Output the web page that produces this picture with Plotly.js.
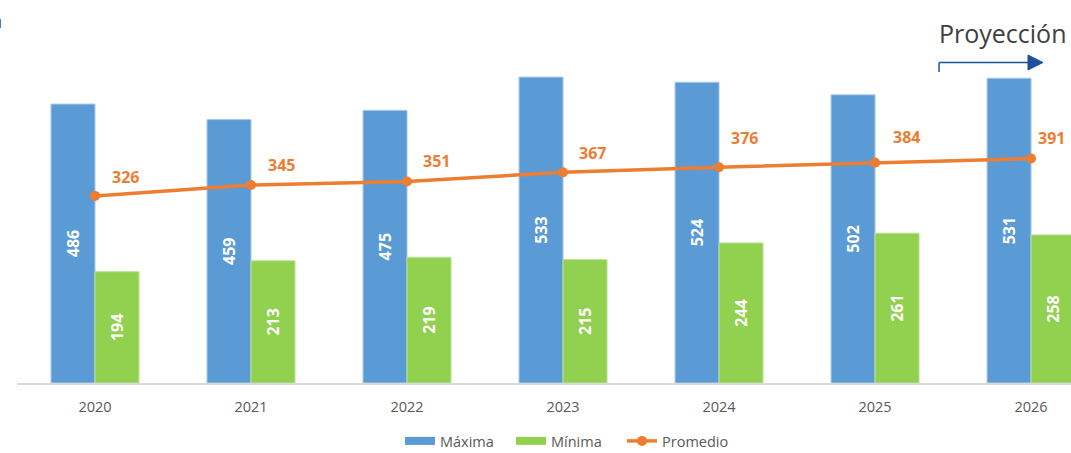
<!DOCTYPE html>
<html>
<head>
<meta charset="utf-8">
<script src="https://cdn.plot.ly/plotly-3.0.1.min.js"></script>
<style>html,body{margin:0;padding:0;background:#fff;}#chart{width:1071px;height:453px;}</style>
</head>
<body>
<div id="chart"></div>
<script>
const years = ['2020','2021','2022','2023','2024','2025','2026'];
const maxima = [486, 459, 475, 533, 524, 502, 531];
const minima = [194, 213, 219, 215, 244, 261, 258];
const promedio = [326, 345, 351, 367, 376, 384, 391];
const seriesNames = ['Máxima', 'Mínima', 'Promedio'];
const projectionLabel = 'Proyección';

// label placement offsets (pixels) for the Promedio labels, as placed in the reference
const labelShiftX = [30, 30, 29, 29.5, 25, 31, 20];
const labelShiftY = [18.5, 19.7, 20.7, 19, 29, 26, 21];

const FONT = 'Open Sans, Noto Sans, sans-serif';
const barLabelFont = {family: FONT, size: 16, color: '#ffffff', weight: 'bold'};
const BLUE = '#5b9bd5', GREEN = '#92d050', ORANGE = '#ed7d31';

const traces = [
  {
    type: 'bar', name: seriesNames[0], x: years, y: maxima, showlegend: false,
    marker: {color: BLUE, line: {color: '#a9c8ea', width: 1}},
    text: maxima.map(String), textposition: 'inside', insidetextanchor: 'middle',
    textangle: -90, textfont: barLabelFont, hoverinfo: 'skip'
  },
  {
    type: 'bar', name: seriesNames[1], x: years, y: minima, showlegend: false,
    marker: {color: GREEN, line: {color: '#b9e394', width: 1}},
    text: minima.map(String), textposition: 'inside', insidetextanchor: 'middle',
    textangle: -90, textfont: barLabelFont, hoverinfo: 'skip'
  },
  {
    type: 'scatter', mode: 'lines+markers', name: seriesNames[2], x: years, y: promedio,
    line: {color: ORANGE, width: 3.5},
    marker: {color: ORANGE, size: 10},
    hoverinfo: 'skip', cliponaxis: false, showlegend: false
  },
  // legend-only entries (wide swatches like the reference)
  {type: 'scatter', mode: 'lines', name: seriesNames[0], x: [null], y: [null],
   line: {color: BLUE, width: 8}},
  {type: 'scatter', mode: 'lines', name: seriesNames[1], x: [null], y: [null],
   line: {color: GREEN, width: 8}},
  {type: 'scatter', mode: 'lines+markers', name: seriesNames[2], x: [null], y: [null],
   line: {color: ORANGE, width: 3.5}, marker: {color: ORANGE, size: 10}}
];

const annotations = promedio.map((v, i) => ({
  x: i, y: v, xref: 'x', yref: 'y', text: '<b>' + v + '</b>',
  showarrow: false, xshift: labelShiftX[i], yshift: labelShiftY[i],
  font: {family: FONT, size: 16, color: ORANGE}
}));

// Projection label
annotations.push({
  xref: 'paper', yref: 'paper', x: 0.9985, y: 1.0205, xanchor: 'right', yanchor: 'middle',
  text: projectionLabel, showarrow: false,
  font: {family: FONT, size: 25, color: '#404040'}
});
// cut-off title fragment at top-left
annotations.push({
  xref: 'paper', yref: 'paper', x: -0.0122, y: 1.058, xanchor: 'right', yanchor: 'middle',
  text: 'n', showarrow: false,
  font: {family: FONT, size: 20, color: '#404040'}
});

const shapes = [
  {type: 'line', xref: 'paper', yref: 'paper', x0: 0.8748, x1: 0.9611, y0: 0.9344, y1: 0.9344,
   line: {color: '#1f4e9a', width: 1.5}},
  {type: 'line', xref: 'paper', yref: 'paper', x0: 0.8748, x1: 0.8748, y0: 0.9344, y1: 0.9067,
   line: {color: '#1f4e9a', width: 1.5}},
  {type: 'path', xref: 'paper', yref: 'paper',
   path: 'M 0.9592 0.9563 L 0.9734 0.9344 L 0.9592 0.9125 Z',
   fillcolor: '#1f4e9a', line: {color: '#1f4e9a', width: 1}}
];

const layout = {
  width: 1071, height: 453,
  margin: {l: 17, r: 0, t: 40, b: 70, autoexpand: false},
  paper_bgcolor: '#ffffff', plot_bgcolor: '#ffffff',
  barmode: 'group', bargap: 0.436, bargroupgap: 0,
  showlegend: true,
  legend: {
    orientation: 'h', x: 0.3634, xanchor: 'left', y: -0.169, yanchor: 'middle',
    font: {family: FONT, size: 14.5, color: '#595959'},
    entrywidth: 66, entrywidthmode: 'pixels',
    tracegroupgap: 0, traceorder: 'normal'
  },
  xaxis: {
    type: 'category', range: [-0.5, 6.256], fixedrange: true,
    showline: true, linecolor: '#d9d9d9', linewidth: 1.5,
    showgrid: false, zeroline: false,
    ticks: 'outside', ticklen: 10, tickcolor: 'rgba(0,0,0,0)',
    tickfont: {family: FONT, size: 14.5, color: '#595959'}
  },
  yaxis: {
    range: [0, 597.6], visible: false, showgrid: false, zeroline: false, fixedrange: true
  },
  annotations: annotations,
  shapes: shapes,
  font: {family: FONT}
};

Plotly.newPlot('chart', traces, layout, {displayModeBar: false, staticPlot: true});
</script>
</body>
</html>
